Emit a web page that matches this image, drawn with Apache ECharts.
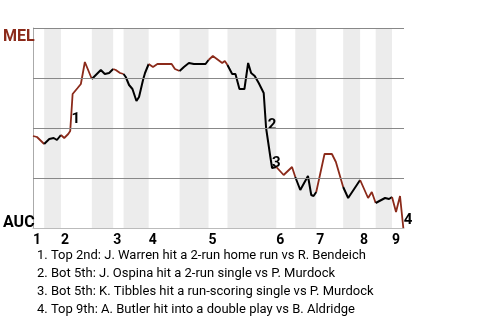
<!DOCTYPE html>
<html><head><meta charset="utf-8">
<script src="https://cdn.jsdelivr.net/npm/echarts@6/dist/echarts.min.js"></script>
<style>html,body{margin:0;padding:0;background:#fff}#c{width:480px;height:320px}</style>
</head><body><div id="c"></div>
<script>
// play index (x) and home/away win probability (MEL on top)
const plays = [0,1,2.8,4.08,5.18,6,7,7.83,8.83,9.33,9.93,11.18,12,13,14.75,15.75,17,18,19.08,20.1,20.75,21.83,22.7,23.25,24.08,24.93,25.93,26.58,27.58,28.08,29,30.08,31.18,34.75,35.58,36.75,37.83,39.08,40.33,43.25,44,45.08,46.43,47.43,48.08,48.75,49.93,50.75,51.75,53,53.93,54.68,55.58,56.58,57.83,58.43,59.5,59.93,61,62.83,64.93,65.75,67,68.93,69.75,70.33,71,73.08,74.93,75.93,77.75,79,82,84,84.93,85.9,88.25,89.25,90,91,92,92.83];
const winProb = [.46,.455,.42,.445,.45,.44,.465,.45,.47,.485,.67,.70,.72,.83,.745,.765,.79,.77,.775,.795,.79,.775,.77,.755,.715,.695,.635,.655,.74,.775,.82,.805,.82,.82,.795,.785,.805,.825,.82,.82,.84,.86,.84,.825,.835,.815,.77,.77,.695,.695,.825,.775,.76,.725,.675,.50,.355,.30,.305,.265,.305,.255,.19,.26,.165,.16,.18,.37,.37,.33,.205,.15,.24,.15,.18,.125,.15,.145,.155,.08,.16,0];
// half-inning starts (top, bottom, top, ...), last value = end of game
const halfInningStarts = [0,2.8,7,14.75,20.1,22.7,29,36.75,44,48.75,61,65.75,71,77.75,82,85.9,90,93];
const inningLabels = ['1','2','3','4','5','6','7','8','9'];
const teamTop = 'MEL';
const teamBottom = 'AUC';
const gridValues = [0.25,0.5,0.75,1];
const annoX = [10.75,59.93,61,94];
const annoY = [0.545,0.515,0.325,0.04];
const annoText = ['1','2','3','4'];
const notes = [
  '1. Top 2nd: J. Warren hit a 2-run home run vs R. Bendeich',
  '2. Bot 5th: J. Ospina hit a 2-run single vs P. Murdock',
  '3. Bot 5th: K. Tibbles hit a run-scoring single vs P. Murdock',
  '4. Top 9th: A. Butler hit into a double play vs B. Aldridge'
];

const RED = '#8b2a1a';
const NARROW = '"Liberation Sans Narrow", "Roboto", sans-serif';

const series = [];
const bands = [];
for (let i = 1; i < halfInningStarts.length - 1; i += 2) {
  bands.push([{xAxis: halfInningStarts[i]}, {xAxis: halfInningStarts[i+1]}]);
}
series.push({
  type: 'line', data: [], z: 1, silent: true,
  markArea: {silent: true, itemStyle: {color: '#ececec'}, data: bands}
});
series.push({
  type: 'line', data: [], z: 2, silent: true,
  markLine: {silent: true, symbol: 'none', label: {show: false},
    lineStyle: {color: '#888', width: 1, type: 'solid'},
    data: gridValues.map(v => ({yAxis: v}))}
});
for (let i = 0; i < halfInningStarts.length - 1; i++) {
  const s = halfInningStarts[i], e = halfInningStarts[i+1];
  const pts = [];
  for (let k = 0; k < plays.length; k++) {
    if (plays[k] >= s - 1e-9 && plays[k] <= e + 1e-9) pts.push([plays[k], winProb[k]]);
  }
  const top = i % 2 === 0;
  series.push({
    type: 'line', data: pts, z: 3, showSymbol: false, symbol: 'none', silent: true,
    lineStyle: {color: top ? RED : '#000', width: top ? 1.8 : 2}
  });
}
series.push({
  type: 'scatter', z: 4, clip: false, symbolSize: 1, silent: true,
  itemStyle: {opacity: 1, color: 'rgba(0,0,0,0)'},
  data: annoX.map((x, i) => [x, annoY[i], annoText[i]]),
  label: {show: true, position: 'inside', formatter: p => p.data[2], opacity: 1,
    fontFamily: NARROW, fontWeight: 'bold', fontSize: 15, color: '#000',
    textBorderWidth: 0, textBorderColor: 'transparent'}
});

const chart = echarts.init(document.getElementById('c'), null, {renderer: 'canvas'});
chart.setOption({
  animation: false,
  backgroundColor: '#fff',
  title: {
    text: notes.join('\n'), left: 32, top: 242,
    textStyle: {fontFamily: 'Roboto', fontSize: 13, fontWeight: 'normal', color: '#000', lineHeight: 18}
  },
  grid: {left: 32, right: 76, top: 28, bottom: 92},
  xAxis: {
    type: 'value', min: 0, max: halfInningStarts[halfInningStarts.length-1], offset: 2,
    splitLine: {show: false},
    axisLine: {show: true, lineStyle: {color: '#bbb', width: 1}},
    axisTick: {show: false},
    axisLabel: {
      customValues: halfInningStarts.filter((v, i) => i % 2 === 0 && i < halfInningStarts.length - 1),
      formatter: v => {
        const idx = halfInningStarts.indexOf(v);
        return inningLabels[idx / 2];
      },
      align: 'left', margin: 3, fontFamily: NARROW, fontWeight: 'bold', fontSize: 14, color: '#000',
      showMinLabel: true, showMaxLabel: true
    }
  },
  yAxis: {
    type: 'value', min: 0, max: 1, interval: 1,
    splitLine: {show: false},
    axisLine: {show: true, lineStyle: {color: '#aaa', width: 1}},
    axisTick: {show: false},
    axisLabel: {
      align: 'left', margin: 30,
      formatter: v => v === 1 ? '{t|' + teamTop + '}' : (v === 0 ? '{b|' + teamBottom + '}' : ''),
      rich: {
        t: {fontFamily: NARROW, fontWeight: 'bold', fontSize: 16, color: RED, padding: [18, 0, 0, 0]},
        b: {fontFamily: NARROW, fontWeight: 'bold', fontSize: 16, color: '#000', padding: [0, 0, 11, 0]}
      }
    }
  },
  series: series
});
</script></body></html>
